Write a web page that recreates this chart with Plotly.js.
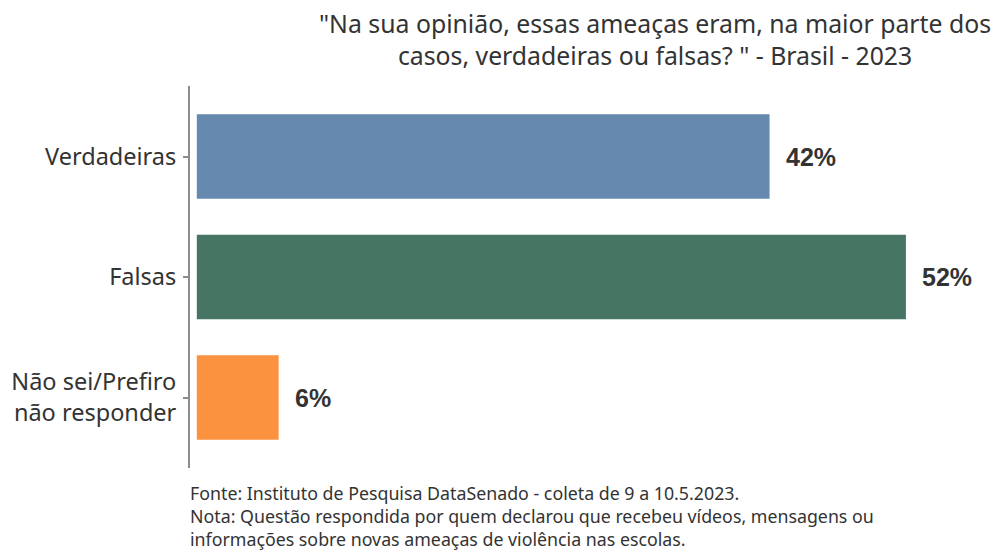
<!DOCTYPE html>
<html><head><meta charset="utf-8">
<script src="https://cdn.plot.ly/plotly-3.0.1.min.js"></script>
<style>body{margin:0;background:#fff}#c{width:995px;height:554px}</style>
</head><body><div id="c"></div>
<script>
const categories = ["Verdadeiras", "Falsas", "Não sei/Prefiro<br>não responder"];
const values = [42, 52, 6];
const colors = ["#6689b0", "#467564", "#fb923f"];
const valueLabels = ["42%", "52%", "6%"];

const trace = {
  type: "bar", orientation: "h",
  x: values, y: categories,
  marker: {color: colors, line: {width: 0}},
  width: 0.7,
  hoverinfo: "none"
};
const annotations = values.map((v, i) => ({
  x: v, y: categories[i], xref: "x", yref: "y",
  text: "<b>" + valueLabels[i] + "</b>", showarrow: false,
  xanchor: "left", xshift: 14,
  font: {family: "Liberation Sans, Arial", size: 25, color: "#333333"}
}));
annotations.push({
  xref: "paper", yref: "paper", x: 0, y: 1.215, xanchor: "center", yanchor: "top",
  text: "\"Na sua opinião, essas ameaças eram, na maior parte dos<br>casos, verdadeiras ou falsas? \" - Brasil - 2023",
  showarrow: false, xshift: 465,
  font: {family: "Noto Sans", size: 24.8, color: "#333333"}
});
annotations.push({
  xref: "paper", yref: "paper", x: 0, y: -0.028, xanchor: "left", yanchor: "top",
  align: "left", showarrow: false, xshift: -2,
  text: "Fonte: Instituto de Pesquisa DataSenado - coleta de 9 a 10.5.2023.<br>Nota: Questão respondida por quem declarou que recebeu vídeos, mensagens ou<br>informações sobre novas ameaças de violência nas escolas.",
  font: {family: "Noto Sans", size: 17.8, color: "#333333"}
});
const layout = {
  width: 995, height: 554,
  margin: {l: 190, r: 10, t: 86, b: 86},
  paper_bgcolor: "#fff", plot_bgcolor: "#fff",
  showlegend: false,
  xaxis: {range: [-0.5, 57.8], visible: false, fixedrange: true},
  yaxis: {
    autorange: false, range: [2.585, -0.585],
    showline: true, linecolor: "#8c8c8c", linewidth: 2,
    ticks: "outside", ticklen: 5, tickcolor: "#8c8c8c", tickwidth: 2,
    showgrid: false, zeroline: false,
    tickfont: {family: "Noto Sans", size: 23.5, color: "#333333"},
    ticklabelstandoff: 2
  },
  annotations: annotations
};
Plotly.newPlot("c", [trace], layout, {displayModeBar: false, staticPlot: true});
</script></body></html>
